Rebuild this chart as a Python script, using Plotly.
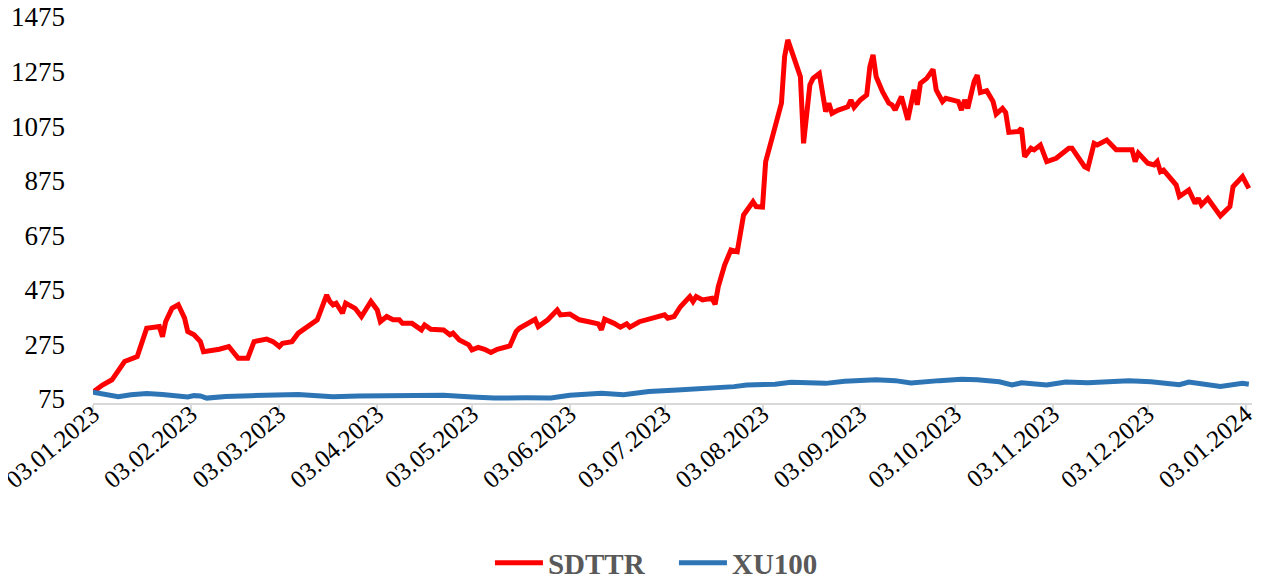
import plotly.graph_objects as go

# SDTTR (red) series: dates and normalized values
sdttr_dates = [
    "2023-01-03", "2023-01-06", "2023-01-09", "2023-01-11", "2023-01-13", "2023-01-17",
    "2023-01-18", "2023-01-20", "2023-01-24", "2023-01-25", "2023-01-26", "2023-01-28",
    "2023-01-30", "2023-02-01", "2023-02-02", "2023-02-04", "2023-02-06", "2023-02-07",
    "2023-02-12", "2023-02-15", "2023-02-18", "2023-02-21", "2023-02-23", "2023-02-27",
    "2023-03-01", "2023-03-03", "2023-03-04", "2023-03-07", "2023-03-09", "2023-03-12",
    "2023-03-15", "2023-03-16", "2023-03-18", "2023-03-19", "2023-03-20", "2023-03-21",
    "2023-03-23", "2023-03-24", "2023-03-27", "2023-03-29", "2023-04-01", "2023-04-03",
    "2023-04-04", "2023-04-06", "2023-04-08", "2023-04-10", "2023-04-11", "2023-04-14",
    "2023-04-17", "2023-04-18", "2023-04-20", "2023-04-24", "2023-04-26", "2023-04-27",
    "2023-04-29", "2023-05-02", "2023-05-03", "2023-05-05", "2023-05-07", "2023-05-09",
    "2023-05-11", "2023-05-15", "2023-05-17", "2023-05-18", "2023-05-21", "2023-05-23",
    "2023-05-24", "2023-05-27", "2023-05-30", "2023-05-31", "2023-06-03", "2023-06-06",
    "2023-06-09", "2023-06-12", "2023-06-13", "2023-06-14", "2023-06-17", "2023-06-19",
    "2023-06-21", "2023-06-22", "2023-06-25", "2023-06-28", "2023-07-01", "2023-07-03",
    "2023-07-04", "2023-07-06", "2023-07-08", "2023-07-11", "2023-07-12", "2023-07-13",
    "2023-07-15", "2023-07-18", "2023-07-19", "2023-07-20", "2023-07-22", "2023-07-24",
    "2023-07-26", "2023-07-28", "2023-07-31", "2023-08-01", "2023-08-03", "2023-08-04",
    "2023-08-06", "2023-08-09", "2023-08-10", "2023-08-11", "2023-08-13", "2023-08-15",
    "2023-08-16", "2023-08-18", "2023-08-19", "2023-08-21", "2023-08-23", "2023-08-24",
    "2023-08-25", "2023-08-27", "2023-08-30", "2023-08-31", "2023-09-01", "2023-09-03",
    "2023-09-05", "2023-09-06", "2023-09-07", "2023-09-08", "2023-09-10", "2023-09-12",
    "2023-09-13", "2023-09-14", "2023-09-16", "2023-09-18", "2023-09-20", "2023-09-21",
    "2023-09-22", "2023-09-24", "2023-09-26", "2023-09-27", "2023-09-29", "2023-09-30",
    "2023-10-02", "2023-10-04", "2023-10-05", "2023-10-06", "2023-10-07", "2023-10-09",
    "2023-10-10", "2023-10-11", "2023-10-13", "2023-10-15", "2023-10-16", "2023-10-18",
    "2023-10-19", "2023-10-20", "2023-10-23", "2023-10-24", "2023-10-25", "2023-10-27",
    "2023-10-28", "2023-10-30", "2023-11-01", "2023-11-04", "2023-11-08", "2023-11-09",
    "2023-11-13", "2023-11-14", "2023-11-16", "2023-11-17", "2023-11-20", "2023-11-23",
    "2023-11-28", "2023-11-29", "2023-11-30", "2023-12-03", "2023-12-05", "2023-12-06",
    "2023-12-07", "2023-12-08", "2023-12-12", "2023-12-13", "2023-12-16", "2023-12-18",
    "2023-12-19", "2023-12-20", "2023-12-22", "2023-12-26", "2023-12-29", "2023-12-30",
    "2024-01-02", "2024-01-04",
]
sdttr_values = [
    100, 126, 145, 175, 212, 230,
    267, 334, 340, 303, 358, 407,
    420, 371, 322, 310, 285, 248,
    257, 267, 224, 224, 285, 294,
    285, 267, 279, 285, 316, 340,
    365, 395, 456, 432, 420, 426,
    389, 426, 407, 377, 432, 401,
    358, 377, 365, 365, 352, 352,
    328, 346, 330, 328, 310, 316,
    291, 273, 255, 264, 257, 245,
    257, 269, 322, 334, 352, 367,
    340, 365, 401, 383, 386, 365,
    358, 350, 328, 367, 352, 338,
    350, 338, 358, 367, 377, 383,
    371, 377, 413, 450, 432, 450,
    438, 444, 422, 487, 566, 621,
    615, 749, 798, 780, 778, 945,
    1030, 1159, 1330, 1391, 1324, 1256,
    1012, 1226, 1250, 1268, 1128, 1159,
    1122, 1134, 1146, 1171, 1144, 1171,
    1189, 1293, 1336, 1256, 1201, 1159,
    1153, 1134, 1183, 1098, 1208, 1153,
    1232, 1250, 1283, 1208, 1165, 1177,
    1171, 1165, 1134, 1171, 1140, 1238,
    1262, 1198, 1205, 1165, 1119, 1140,
    1125, 1052, 1055, 1067, 963, 994,
    988, 1006, 945, 957, 994, 994,
    926, 920, 1012, 1006, 1024, 988,
    988, 945, 976, 939, 933, 945,
    908, 914, 859, 817, 841, 792,
    810, 786, 810, 746, 780, 853,
    890, 847,
]

# XU100 (blue) series
xu100_dates = [
    "2023-01-03", "2023-01-08", "2023-01-11", "2023-01-15", "2023-01-20", "2023-01-25",
    "2023-02-02", "2023-02-04", "2023-02-06", "2023-02-08", "2023-02-14", "2023-02-22",
    "2023-03-01", "2023-03-09", "2023-03-15", "2023-03-20", "2023-03-28", "2023-04-10",
    "2023-04-24", "2023-05-03", "2023-05-10", "2023-05-20", "2023-05-28", "2023-06-03",
    "2023-06-13", "2023-06-20", "2023-06-28", "2023-07-07", "2023-07-18", "2023-07-25",
    "2023-07-29", "2023-08-07", "2023-08-12", "2023-08-23", "2023-08-29", "2023-09-08",
    "2023-09-14", "2023-09-19", "2023-09-28", "2023-10-05", "2023-10-10", "2023-10-17",
    "2023-10-21", "2023-10-24", "2023-11-01", "2023-11-07", "2023-11-14", "2023-11-27",
    "2023-12-04", "2023-12-13", "2023-12-16", "2023-12-26", "2024-01-02", "2024-01-04",
]
xu100_values = [
    100, 88, 83, 90, 95, 91,
    82, 87, 86, 78, 84, 87,
    90, 91, 87, 83, 86, 88,
    88, 82, 78, 79, 78, 88,
    96, 90, 102, 108, 114, 120,
    126, 129, 136, 132, 140, 145,
    142, 133, 142, 147, 145, 138,
    126, 134, 126, 137, 134, 142,
    138, 127, 137, 121, 132, 129,
]

tick_dates = [
    "2023-01-03", "2023-02-03", "2023-03-03", "2023-04-03", "2023-05-03", "2023-06-03",
    "2023-07-03", "2023-08-03", "2023-09-03", "2023-10-03", "2023-11-03", "2023-12-03",
    "2024-01-03",
]
tick_labels = [
    "03.01.2023", "03.02.2023", "03.03.2023", "03.04.2023", "03.05.2023", "03.06.2023",
    "03.07.2023", "03.08.2023", "03.09.2023", "03.10.2023", "03.11.2023", "03.12.2023",
    "03.01.2024",
]
y_ticks = [75, 275, 475, 675, 875, 1075, 1275, 1475]

SERIF = "Liberation Serif, Times New Roman, serif"

fig = go.Figure()
fig.add_trace(go.Scatter(
    x=sdttr_dates, y=sdttr_values, mode="lines", name="SDTTR",
    line=dict(color="#FF0000", width=5),
))
fig.add_trace(go.Scatter(
    x=xu100_dates, y=xu100_values, mode="lines", name="XU100",
    line=dict(color="#2E75B6", width=5),
))

# the page body has an 8px default margin, so margins are offset by 8px
fig.update_layout(
    width=1258, height=576, autosize=False,
    margin=dict(l=85, r=14, t=9, b=181, autoexpand=False),
    paper_bgcolor="white", plot_bgcolor="white",
    showlegend=True,
    legend=dict(
        orientation="h", x=0.3425, xanchor="left", y=-0.414, yanchor="middle",
        font=dict(family=SERIF, size=29, color="#595959", weight="bold"),
        itemwidth=48, entrywidth=121, entrywidthmode="pixels", tracegroupgap=0,
    ),
    xaxis=dict(
        type="date", range=["2023-01-03", "2024-01-05"], automargin=False,
        tickmode="array", tickvals=tick_dates, ticktext=tick_labels,
        tickangle=-40, ticks="outside", ticklen=7, tickwidth=1.5, tickcolor="#D9D9D9",
        showline=True, linecolor="#D9D9D9", linewidth=2,
        showgrid=False, zeroline=False,
        tickfont=dict(family=SERIF, size=25, color="black"),
        ticklabelstandoff=-22, ticklabeloverflow="allow",
    ),
    yaxis=dict(
        range=[60, 1475], tickmode="array", tickvals=y_ticks, automargin=False,
        showgrid=False, zeroline=False, showline=False, ticks="",
        tickfont=dict(family=SERIF, size=27, color="black"),
        ticklabelstandoff=27, ticklabeloverflow="allow",
    ),
)

fig.write_html("out.html")
